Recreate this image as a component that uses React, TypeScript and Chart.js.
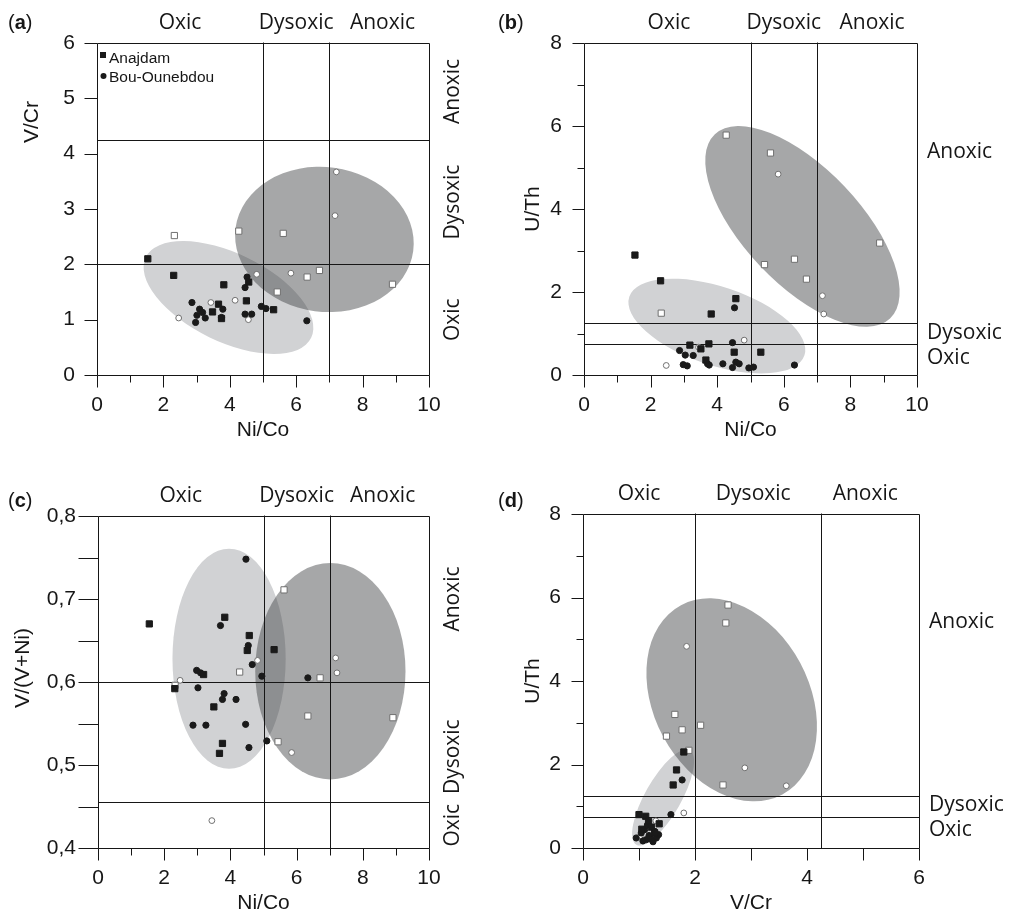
import React, { useEffect, useRef } from 'react';
import { Chart, registerables } from 'chart.js';

Chart.register(...registerables);

type Pt = [number, number];
type Ell = [number, number, number, number, number, number]; // cx, cy, u(dx,dy), v(dx,dy) in data units
type Zone = [string, number];

// ---------------- Panel (a): Ni/Co vs V/Cr ----------------
const aAnajdamFilled: Pt[] = [[1.53, 2.10], [2.31, 1.80], [3.82, 1.63], [4.57, 1.68], [4.50, 1.34], [3.66, 1.28], [3.48, 1.14], [3.75, 1.02], [5.32, 1.18]];
const aAnajdamOpen: Pt[] = [[2.33, 2.52], [4.27, 2.60], [5.61, 2.56], [6.33, 1.77], [6.70, 1.89], [5.43, 1.50], [8.90, 1.64]];
const aBouFilled: Pt[] = [[4.52, 1.77], [4.46, 1.58], [2.86, 1.31], [3.09, 1.19], [3.18, 1.13], [3.01, 1.08], [3.26, 1.03], [2.97, 0.95], [3.79, 1.19], [3.75, 1.04], [4.46, 1.10], [4.66, 1.10], [4.95, 1.24], [5.09, 1.20], [6.32, 0.98]];
const aBouOpen: Pt[] = [[7.21, 3.67], [7.17, 2.88], [5.84, 1.84], [4.81, 1.82], [4.16, 1.35], [3.43, 1.31], [2.46, 1.03], [4.56, 1.00]];
const aEllipses: Ell[] = [[3.96, 1.40, 2.49, -0.728, 0.581, 0.716], [6.85, 2.45, 2.675, -0.211, 0.286, 1.296]];
const aVLines = [5, 7];
const aHLines = [2, 4.25];
const aTopZones: Zone[] = [['Oxic', 2.5], ['Dysoxic', 6], ['Anoxic', 8.6]];
const aSideZones: Zone[] = [['Anoxic', 5.125], ['Dysoxic', 3.125], ['Oxic', 1]];

// ---------------- Panel (b): Ni/Co vs U/Th ----------------
const bAnajdamFilled: Pt[] = [[1.53, 2.89], [2.30, 2.27], [4.56, 1.84], [3.82, 1.47], [3.18, 0.72], [3.75, 0.75], [3.51, 0.63], [4.51, 0.55], [5.31, 0.55], [3.66, 0.36]];
const bAnajdamOpen: Pt[] = [[4.27, 5.78], [5.60, 5.35], [6.32, 2.79], [5.42, 2.66], [6.68, 2.31], [8.88, 3.18], [2.32, 1.49]];
const bBouFilled: Pt[] = [[4.52, 1.62], [4.46, 0.78], [2.87, 0.59], [3.04, 0.48], [3.28, 0.47], [2.98, 0.25], [3.10, 0.22], [3.71, 0.27], [3.76, 0.24], [4.17, 0.27], [4.56, 0.31], [4.66, 0.27], [4.46, 0.18], [4.95, 0.17], [5.09, 0.19], [6.32, 0.24]];
const bBouOpen: Pt[] = [[5.83, 4.84], [7.16, 1.91], [7.20, 1.47], [4.81, 0.84], [3.44, 0.67], [2.47, 0.23]];
const bEllipses: Ell[] = [[3.99, 1.18, 2.63, -0.707, 0.373, 0.897], [6.56, 3.58, 2.63, -2.22, 1.265, 0.962]];
const bVLines = [5, 7];
const bHLines = [0.75, 1.25];
const bTopZones: Zone[] = [['Oxic', 2.55], ['Dysoxic', 6], ['Anoxic', 8.65]];
const bSideZones: Zone[] = [['Anoxic', 5.38], ['Dysoxic', 1.0], ['Oxic', 0.41]];

// ---------------- Panel (c): Ni/Co vs V/(V+Ni) ----------------
const cAnajdamFilled: Pt[] = [[1.55, 0.670], [3.83, 0.678], [4.57, 0.656], [4.51, 0.638], [5.32, 0.639], [3.19, 0.609], [2.32, 0.592], [3.50, 0.570], [3.76, 0.526], [3.67, 0.514]];
const cAnajdamOpen: Pt[] = [[5.62, 0.711], [4.28, 0.612], [6.71, 0.605], [2.33, 0.596], [6.34, 0.559], [8.91, 0.557], [5.44, 0.528]];
const cBouFilled: Pt[] = [[4.47, 0.748], [3.70, 0.668], [4.54, 0.644], [4.66, 0.621], [2.98, 0.614], [3.10, 0.611], [4.95, 0.607], [6.34, 0.605], [3.02, 0.593], [3.81, 0.586], [3.76, 0.579], [4.17, 0.579], [2.87, 0.548], [3.26, 0.548], [4.46, 0.549], [5.10, 0.529], [4.56, 0.521]];
const cBouOpen: Pt[] = [[4.82, 0.626], [7.18, 0.629], [7.22, 0.611], [2.48, 0.602], [5.85, 0.515], [3.44, 0.433]];
const cEllipses: Ell[] = [[3.96, 0.628, 1.71, 0, 0, 0.1326], [7.02, 0.613, 2.27, 0, 0, 0.1304]];
const cVLines = [5, 7];
const cHLines = [0.455, 0.6];
const cTopZones: Zone[] = [['Oxic', 2.5], ['Dysoxic', 6], ['Anoxic', 8.6]];
const cSideZones: Zone[] = [['Anoxic', 0.7], ['Dysoxic', 0.51], ['Oxic', 0.4275]];

// ---------------- Panel (d): V/Cr vs U/Th ----------------
const dAnajdamFilled: Pt[] = [[1.80, 2.30], [1.67, 1.87], [1.61, 1.51], [1.00, 0.80], [1.12, 0.76], [1.17, 0.64], [1.36, 0.58], [1.22, 0.50], [1.05, 0.45], [1.28, 0.36]];
const dAnajdamOpen: Pt[] = [[2.59, 5.82], [2.55, 5.39], [1.64, 3.20], [1.77, 2.83], [1.49, 2.68], [2.10, 2.94], [1.89, 2.34], [2.50, 1.51]];
const dBouFilled: Pt[] = [[1.77, 1.63], [1.57, 0.80], [1.28, 0.40], [1.10, 0.44], [0.95, 0.24], [1.13, 0.20], [1.22, 0.21], [1.31, 0.24], [1.35, 0.32], [1.04, 0.36], [1.18, 0.30], [1.07, 0.17], [1.25, 0.15], [1.15, 0.55]];
const dBouOpen: Pt[] = [[1.85, 4.83], [2.89, 1.92], [3.63, 1.49], [1.80, 0.84], [1.30, 0.65], [1.02, 0.28]];
const dEllipses: Ell[] = [[1.43, 1.21, 0.477, 1.13, 0.28, -0.213], [2.655, 3.55, 0.905, -2.266, 1.225, 0.881]];
const dVLines = [2, 4.25];
const dHLines = [0.75, 1.25];
const dTopZones: Zone[] = [['Oxic', 1], ['Dysoxic', 3.04], ['Anoxic', 5.04]];
const dSideZones: Zone[] = [['Anoxic', 5.41], ['Dysoxic', 1.03], ['Oxic', 0.43]];

// ---------------- styling ----------------
const NUM_FONT = '"Liberation Sans", Arial, Helvetica, sans-serif';
const ZONE_FONT = '"Open Sans", "Noto Sans", sans-serif';
const INK = '#161616';
const LIGHT_FILL = '#d1d2d4';
const DARK_FILL = 'rgba(62,63,66,0.46)';

interface Panel {
  letter: string;
  letterPos: [number, number];
  area: [number, number, number, number]; // left, top, right, bottom
  x: [number, number, number, number]; // min, max, labelStep, minorStep
  y: [number, number, number, number];
  xLen: [number, number]; // major, minor tick lengths
  yLen: [number, number];
  xTitle: string;
  yTitle: string;
  yTitlePos: [number, number];
  comma: boolean;
  sideRotated: boolean;
  legend: boolean;
  series: Pt[][];
  ellipses: Ell[];
  vLines: number[];
  hLines: number[];
  topZones: Zone[];
  sideZones: Zone[];
}

const panels: Panel[] = [
  {
    letter: 'a', letterPos: [8, 29], area: [97, 43, 429, 375], x: [0, 10, 2, 1], y: [0, 6, 1, 1],
    xLen: [12, 7], yLen: [13, 13], xTitle: 'Ni/Co', yTitle: 'V/Cr', yTitlePos: [32, 122],
    comma: false, sideRotated: true, legend: true,
    series: [aAnajdamFilled, aBouFilled, aAnajdamOpen, aBouOpen],
    ellipses: aEllipses, vLines: aVLines, hLines: aHLines, topZones: aTopZones, sideZones: aSideZones,
  },
  {
    letter: 'b', letterPos: [498, 29], area: [584, 43, 917, 375], x: [0, 10, 2, 1], y: [0, 8, 2, 1],
    xLen: [12, 7], yLen: [12, 7], xTitle: 'Ni/Co', yTitle: 'U/Th', yTitlePos: [533, 209],
    comma: false, sideRotated: false, legend: false,
    series: [bAnajdamFilled, bBouFilled, bAnajdamOpen, bBouOpen],
    ellipses: bEllipses, vLines: bVLines, hLines: bHLines, topZones: bTopZones, sideZones: bSideZones,
  },
  {
    letter: 'c', letterPos: [8, 507], area: [98, 516, 429, 848], x: [0, 10, 2, 1], y: [0.4, 0.8, 0.1, 0.05],
    xLen: [12, 7], yLen: [20, 20], xTitle: 'Ni/Co', yTitle: 'V/(V+Ni)', yTitlePos: [23, 668],
    comma: true, sideRotated: true, legend: false,
    series: [cAnajdamFilled, cBouFilled, cAnajdamOpen, cBouOpen],
    ellipses: cEllipses, vLines: cVLines, hLines: cHLines, topZones: cTopZones, sideZones: cSideZones,
  },
  {
    letter: 'd', letterPos: [498, 507], area: [583, 514, 919, 848], x: [0, 6, 2, 1], y: [0, 8, 2, 1],
    xLen: [12, 12], yLen: [12, 7], xTitle: 'V/Cr', yTitle: 'U/Th', yTitlePos: [533, 681],
    comma: false, sideRotated: false, legend: false,
    series: [dAnajdamFilled, dBouFilled, dAnajdamOpen, dBouOpen],
    ellipses: dEllipses, vLines: dVLines, hLines: dHLines, topZones: dTopZones, sideZones: dSideZones,
  },
];

const seriesNames = ['Anajdam', 'Bou-Ounebdou', 'Anajdam (open)', 'Bou-Ounebdou (open)'];
const seriesStyle = [
  { pointStyle: 'rect', radius: 4.4, bg: '#1a1a1a', border: '#1a1a1a' },
  { pointStyle: 'circle', radius: 3.1, bg: '#1a1a1a', border: '#1a1a1a' },
  { pointStyle: 'rect', radius: 4.4, bg: '#ffffff', border: '#707070' },
  { pointStyle: 'circle', radius: 2.9, bg: '#ffffff', border: '#707070' },
];

function tickList(min: number, max: number, labelStep: number, minorStep: number) {
  const out: { v: number; major: boolean }[] = [];
  const n = Math.round((max - min) / minorStep);
  for (let i = 0; i <= n; i++) {
    const v = min + i * minorStep;
    const r = v / labelStep;
    out.push({ v, major: Math.abs(r - Math.round(r)) < 1e-6 });
  }
  return out;
}

function makeDecor(p: Panel) {
  return {
    id: 'decor_' + p.letter,
    beforeDatasetsDraw(chart: any) {
      const ctx: CanvasRenderingContext2D = chart.ctx;
      const xs = chart.scales.x;
      const ys = chart.scales.y;
      const ca = chart.chartArea;
      ctx.save();
      p.ellipses.forEach((e, i) => {
        const [cx, cy, ux, uy, vx, vy] = e;
        const X = xs.getPixelForValue(cx);
        const Y = ys.getPixelForValue(cy);
        const Ux = xs.getPixelForValue(cx + ux) - X;
        const Uy = ys.getPixelForValue(cy + uy) - Y;
        const Vx = xs.getPixelForValue(cx + vx) - X;
        const Vy = ys.getPixelForValue(cy + vy) - Y;
        ctx.save();
        ctx.beginPath();
        ctx.transform(Ux, Uy, Vx, Vy, X, Y);
        ctx.arc(0, 0, 1, 0, Math.PI * 2);
        ctx.restore();
        ctx.fillStyle = i === 0 ? LIGHT_FILL : DARK_FILL;
        ctx.fill();
      });
      ctx.strokeStyle = INK;
      ctx.lineWidth = 1;
      ctx.beginPath();
      const L = ca.left + 0.5, R = ca.right + 0.5, T = ca.top + 0.5, B = ca.bottom + 0.5;
      p.vLines.forEach((v) => {
        const x = Math.round(xs.getPixelForValue(v)) + 0.5;
        ctx.moveTo(x, T - 1); ctx.lineTo(x, B);
      });
      p.hLines.forEach((v) => {
        const y = Math.round(ys.getPixelForValue(v)) + 0.5;
        ctx.moveTo(L, y); ctx.lineTo(R, y);
      });
      ctx.moveTo(L, T); ctx.lineTo(R, T); ctx.lineTo(R, B); ctx.lineTo(L, B); ctx.closePath();
      tickList(p.x[0], p.x[1], p.x[2], p.x[3]).forEach((t) => {
        const x = Math.round(xs.getPixelForValue(t.v)) + 0.5;
        ctx.moveTo(x, B); ctx.lineTo(x, B + (t.major ? p.xLen[0] : p.xLen[1]));
      });
      tickList(p.y[0], p.y[1], p.y[2], p.y[3]).forEach((t) => {
        const y = Math.round(ys.getPixelForValue(t.v)) + 0.5;
        ctx.moveTo(L, y); ctx.lineTo(L - (t.major ? p.yLen[0] : p.yLen[1]), y);
      });
      ctx.stroke();
      ctx.restore();
    },
    afterDraw(chart: any) {
      const ctx: CanvasRenderingContext2D = chart.ctx;
      const xs = chart.scales.x;
      const ys = chart.scales.y;
      const ca = chart.chartArea;
      ctx.save();
      ctx.fillStyle = INK;
      ctx.font = `21px ${ZONE_FONT}`;
      ctx.textAlign = 'center';
      ctx.textBaseline = 'alphabetic';
      p.topZones.forEach(([t, v]) => ctx.fillText(t, xs.getPixelForValue(v), ca.top - 14.5));
      p.sideZones.forEach(([t, v]) => {
        const y = ys.getPixelForValue(v);
        if (p.sideRotated) {
          ctx.save();
          ctx.translate(ca.right + 24, y);
          ctx.rotate(-Math.PI / 2);
          ctx.textAlign = 'center';
          ctx.textBaseline = 'middle';
          ctx.fillText(t, 0, 0);
          ctx.restore();
        } else {
          ctx.textAlign = 'left';
          ctx.textBaseline = 'middle';
          ctx.fillText(t, ca.right + 10, y);
        }
      });
      ctx.font = `21px ${NUM_FONT}`;
      ctx.textAlign = 'center';
      ctx.textBaseline = 'middle';
      ctx.fillText(p.xTitle, (ca.left + ca.right) / 2, ca.bottom + 55);
      ctx.save();
      ctx.translate(p.yTitlePos[0], p.yTitlePos[1]);
      ctx.rotate(-Math.PI / 2);
      ctx.fillText(p.yTitle, 0, 0);
      ctx.restore();
      ctx.textAlign = 'left';
      ctx.textBaseline = 'alphabetic';
      let lx = p.letterPos[0];
      const ly = p.letterPos[1];
      ctx.font = `20px ${NUM_FONT}`;
      ctx.fillText('(', lx, ly); lx += ctx.measureText('(').width;
      ctx.font = `bold 20px ${NUM_FONT}`;
      ctx.fillText(p.letter, lx, ly); lx += ctx.measureText(p.letter).width;
      ctx.font = `20px ${NUM_FONT}`;
      ctx.fillText(')', lx, ly);
      if (p.legend) {
        ctx.font = `15.5px ${NUM_FONT}`;
        ctx.fillStyle = '#1a1a1a';
        ctx.fillRect(ca.left + 3, ca.top + 9, 6, 6);
        ctx.beginPath();
        ctx.arc(ca.left + 6.5, ca.top + 33, 3, 0, Math.PI * 2);
        ctx.fill();
        ctx.fillStyle = INK;
        ctx.fillText('Anajdam', ca.left + 12, ca.top + 19.5);
        ctx.fillText('Bou-Ounebdou', ca.left + 12, ca.top + 38.5);
      }
      ctx.restore();
    },
  };
}

function PanelChart({ p }: { p: Panel }) {
  const ref = useRef<HTMLCanvasElement>(null);
  useEffect(() => {
    const [L, T, R, B] = p.area;
    const xFmt = (v: any) => String(Math.round(Number(v) * 100) / 100);
    const yFmt = (v: any) => (p.comma ? Number(v).toFixed(1).replace('.', ',') : String(Math.round(Number(v) * 100) / 100));
    const chart = new Chart(ref.current as HTMLCanvasElement, {
      type: 'scatter',
      data: {
        datasets: p.series.map((s, i) => ({
          label: seriesNames[i],
          data: s.map(([x, y]) => ({ x, y })),
          pointStyle: seriesStyle[i].pointStyle as any,
          pointRadius: seriesStyle[i].radius,
          pointBackgroundColor: seriesStyle[i].bg,
          pointBorderColor: seriesStyle[i].border,
          pointBorderWidth: 1,
          pointHoverRadius: seriesStyle[i].radius,
        })),
      },
      options: {
        responsive: false,
        animation: false,
        events: [],
        layout: { padding: { left: L - 60, top: T, right: 1010 - R, bottom: 921 - B - 60 } },
        plugins: { legend: { display: false }, tooltip: { enabled: false } },
        scales: {
          x: {
            type: 'linear',
            min: p.x[0],
            max: p.x[1],
            grid: { display: false, drawTicks: false },
            border: { display: false },
            ticks: { stepSize: p.x[2], padding: 18, color: INK, font: { family: NUM_FONT, size: 21 }, callback: xFmt, maxRotation: 0 },
            afterFit: (s: any) => { s.height = 60; },
          },
          y: {
            type: 'linear',
            min: p.y[0],
            max: p.y[1],
            grid: { display: false, drawTicks: false },
            border: { display: false },
            ticks: { stepSize: p.y[2], padding: 22, color: INK, font: { family: NUM_FONT, size: 21 }, callback: yFmt },
            afterFit: (s: any) => { s.width = 60; },
          },
        },
      },
      plugins: [makeDecor(p)],
    } as any);
    return () => chart.destroy();
  }, [p]);
  return (
    <canvas
      ref={ref}
      width={1010}
      height={921}
      style={{ position: 'absolute', left: 0, top: 0, width: 1010, height: 921 }}
    />
  );
}

export default function App() {
  return (
    <div style={{ position: 'absolute', left: 0, top: 0, width: 1010, height: 921, background: '#ffffff', overflow: 'hidden' }}>
      {panels.map((p) => (
        <PanelChart key={p.letter} p={p} />
      ))}
    </div>
  );
}
